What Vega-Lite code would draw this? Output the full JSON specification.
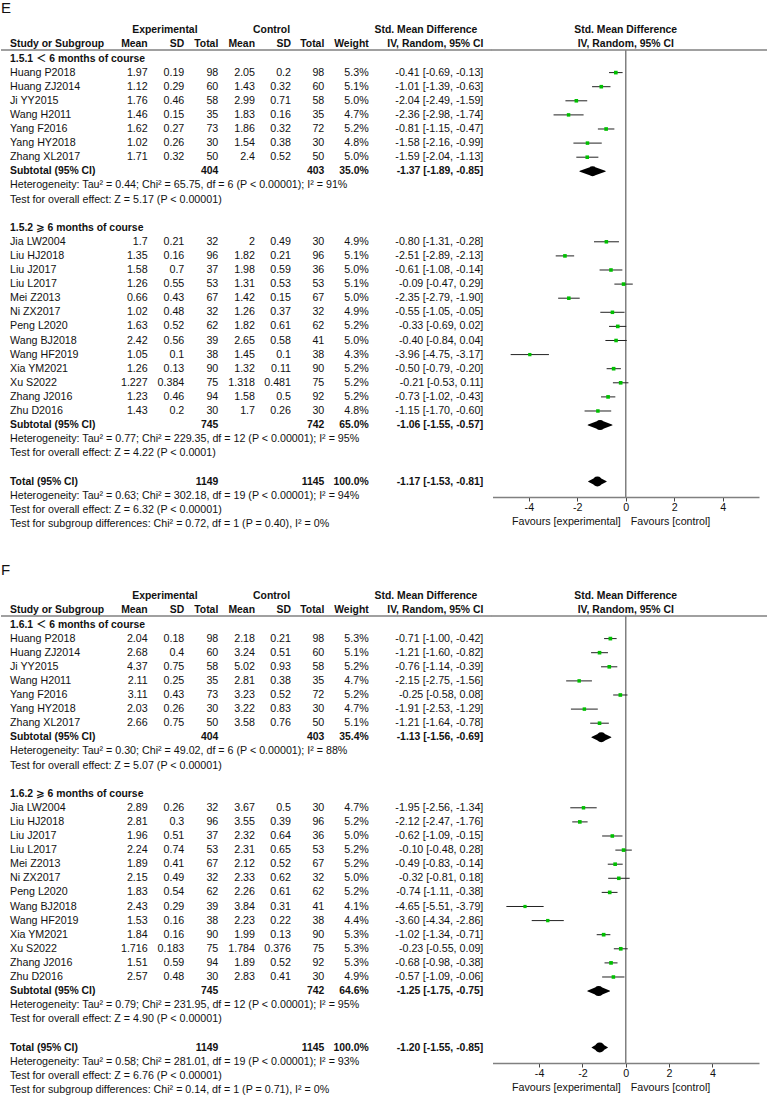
{
"$schema": "https://vega.github.io/schema/vega-lite/v6.json",
"padding": 0,
"background": "white",
"columns": 2,
"spacing": 0,
"bounds": "flush",
"config": {"view": {"stroke": null},
  "text": {"font": "Liberation Sans, Arial, DejaVu Sans, Noto Sans CJK SC", "fontSize": 10.7, "baseline": "middle", "color": "#111"},
  "axisX": {"grid": false, "domainColor": "#808080", "domainWidth": 1.5, "tickColor": "#444", "tickSize": 4, "tickWidth": 1, "labelFont": "Liberation Sans", "labelFontSize": 10.7, "labelColor": "#111", "labelPadding": 1, "labelFlush": false, "labelOverlap": false}},
"datasets": {
"cols": [{"key":"em","c":2},{"key":"esd","c":3},{"key":"et","c":4},{"key":"cm","c":5},{"key":"csd","c":6},{"key":"ct","c":7},{"key":"w","c":8},{"key":"ci","c":9}],
"E": [
{"r":-1,"t":"h","n":"Study or Subgroup","em":"Mean","esd":"SD","et":"Total","cm":"Mean","csd":"SD","ct":"Total","w":"Weight","ci":"IV, Random, 95% CI"},
{"r":0,"t":"g","n":"1.5.1 ＜ 6 months of course"},
{"r":1,"t":"s","n":"Huang P2018","em":1.97,"esd":0.19,"et":98,"cm":2.05,"csd":0.2,"ct":98,"w":"5.3%","wt":5.3,"ci":"-0.41 [-0.69, -0.13]","est":-0.41,"lo":-0.69,"hi":-0.13},
{"r":2,"t":"s","n":"Huang ZJ2014","em":1.12,"esd":0.29,"et":60,"cm":1.43,"csd":0.32,"ct":60,"w":"5.1%","wt":5.1,"ci":"-1.01 [-1.39, -0.63]","est":-1.01,"lo":-1.39,"hi":-0.63},
{"r":3,"t":"s","n":"Ji YY2015","em":1.76,"esd":0.46,"et":58,"cm":2.99,"csd":0.71,"ct":58,"w":"5.0%","wt":5.0,"ci":"-2.04 [-2.49, -1.59]","est":-2.04,"lo":-2.49,"hi":-1.59},
{"r":4,"t":"s","n":"Wang H2011","em":1.46,"esd":0.15,"et":35,"cm":1.83,"csd":0.16,"ct":35,"w":"4.7%","wt":4.7,"ci":"-2.36 [-2.98, -1.74]","est":-2.36,"lo":-2.98,"hi":-1.74},
{"r":5,"t":"s","n":"Yang F2016","em":1.62,"esd":0.27,"et":73,"cm":1.86,"csd":0.32,"ct":72,"w":"5.2%","wt":5.2,"ci":"-0.81 [-1.15, -0.47]","est":-0.81,"lo":-1.15,"hi":-0.47},
{"r":6,"t":"s","n":"Yang HY2018","em":1.02,"esd":0.26,"et":30,"cm":1.54,"csd":0.38,"ct":30,"w":"4.8%","wt":4.8,"ci":"-1.58 [-2.16, -0.99]","est":-1.58,"lo":-2.16,"hi":-0.99},
{"r":7,"t":"s","n":"Zhang XL2017","em":1.71,"esd":0.32,"et":50,"cm":2.4,"csd":0.52,"ct":50,"w":"5.0%","wt":5.0,"ci":"-1.59 [-2.04, -1.13]","est":-1.59,"lo":-2.04,"hi":-1.13},
{"r":8,"t":"sub","n":"Subtotal (95% CI)","et":404,"ct":403,"w":"35.0%","ci":"-1.37 [-1.89, -0.85]","est":-1.37,"lo":-1.89,"hi":-0.85},
{"r":9,"t":"note","n":"Heterogeneity: Tau² = 0.44; Chi² = 65.75, df = 6 (P < 0.00001); I² = 91%"},
{"r":10,"t":"note","n":"Test for overall effect: Z = 5.17 (P < 0.00001)"},
{"r":12,"t":"g","n":"1.5.2 ⩾ 6 months of course"},
{"r":13,"t":"s","n":"Jia LW2004","em":1.7,"esd":0.21,"et":32,"cm":2,"csd":0.49,"ct":30,"w":"4.9%","wt":4.9,"ci":"-0.80 [-1.31, -0.28]","est":-0.80,"lo":-1.31,"hi":-0.28},
{"r":14,"t":"s","n":"Liu HJ2018","em":1.35,"esd":0.16,"et":96,"cm":1.82,"csd":0.21,"ct":96,"w":"5.1%","wt":5.1,"ci":"-2.51 [-2.89, -2.13]","est":-2.51,"lo":-2.89,"hi":-2.13},
{"r":15,"t":"s","n":"Liu J2017","em":1.58,"esd":0.7,"et":37,"cm":1.98,"csd":0.59,"ct":36,"w":"5.0%","wt":5.0,"ci":"-0.61 [-1.08, -0.14]","est":-0.61,"lo":-1.08,"hi":-0.14},
{"r":16,"t":"s","n":"Liu L2017","em":1.26,"esd":0.55,"et":53,"cm":1.31,"csd":0.53,"ct":53,"w":"5.1%","wt":5.1,"ci":"-0.09 [-0.47, 0.29]","est":-0.09,"lo":-0.47,"hi":0.29},
{"r":17,"t":"s","n":"Mei Z2013","em":0.66,"esd":0.43,"et":67,"cm":1.42,"csd":0.15,"ct":67,"w":"5.0%","wt":5.0,"ci":"-2.35 [-2.79, -1.90]","est":-2.35,"lo":-2.79,"hi":-1.90},
{"r":18,"t":"s","n":"Ni ZX2017","em":1.02,"esd":0.48,"et":32,"cm":1.26,"csd":0.37,"ct":32,"w":"4.9%","wt":4.9,"ci":"-0.55 [-1.05, -0.05]","est":-0.55,"lo":-1.05,"hi":-0.05},
{"r":19,"t":"s","n":"Peng L2020","em":1.63,"esd":0.52,"et":62,"cm":1.82,"csd":0.61,"ct":62,"w":"5.2%","wt":5.2,"ci":"-0.33 [-0.69, 0.02]","est":-0.33,"lo":-0.69,"hi":0.02},
{"r":20,"t":"s","n":"Wang BJ2018","em":2.42,"esd":0.56,"et":39,"cm":2.65,"csd":0.58,"ct":41,"w":"5.0%","wt":5.0,"ci":"-0.40 [-0.84, 0.04]","est":-0.40,"lo":-0.84,"hi":0.04},
{"r":21,"t":"s","n":"Wang HF2019","em":1.05,"esd":0.1,"et":38,"cm":1.45,"csd":0.1,"ct":38,"w":"4.3%","wt":4.3,"ci":"-3.96 [-4.75, -3.17]","est":-3.96,"lo":-4.75,"hi":-3.17},
{"r":22,"t":"s","n":"Xia YM2021","em":1.26,"esd":0.13,"et":90,"cm":1.32,"csd":0.11,"ct":90,"w":"5.2%","wt":5.2,"ci":"-0.50 [-0.79, -0.20]","est":-0.50,"lo":-0.79,"hi":-0.20},
{"r":23,"t":"s","n":"Xu S2022","em":1.227,"esd":0.384,"et":75,"cm":1.318,"csd":0.481,"ct":75,"w":"5.2%","wt":5.2,"ci":"-0.21 [-0.53, 0.11]","est":-0.21,"lo":-0.53,"hi":0.11},
{"r":24,"t":"s","n":"Zhang J2016","em":1.23,"esd":0.46,"et":94,"cm":1.58,"csd":0.5,"ct":92,"w":"5.2%","wt":5.2,"ci":"-0.73 [-1.02, -0.43]","est":-0.73,"lo":-1.02,"hi":-0.43},
{"r":25,"t":"s","n":"Zhu D2016","em":1.43,"esd":0.2,"et":30,"cm":1.7,"csd":0.26,"ct":30,"w":"4.8%","wt":4.8,"ci":"-1.15 [-1.70, -0.60]","est":-1.15,"lo":-1.70,"hi":-0.60},
{"r":26,"t":"sub","n":"Subtotal (95% CI)","et":745,"ct":742,"w":"65.0%","ci":"-1.06 [-1.55, -0.57]","est":-1.06,"lo":-1.55,"hi":-0.57},
{"r":27,"t":"note","n":"Heterogeneity: Tau² = 0.77; Chi² = 229.35, df = 12 (P < 0.00001); I² = 95%"},
{"r":28,"t":"note","n":"Test for overall effect: Z = 4.22 (P < 0.0001)"},
{"r":30,"t":"tot","n":"Total (95% CI)","et":1149,"ct":1145,"w":"100.0%","ci":"-1.17 [-1.53, -0.81]","est":-1.17,"lo":-1.53,"hi":-0.81},
{"r":31,"t":"note","n":"Heterogeneity: Tau² = 0.63; Chi² = 302.18, df = 19 (P < 0.00001); I² = 94%"},
{"r":32,"t":"note","n":"Test for overall effect: Z = 6.32 (P < 0.00001)"},
{"r":33,"t":"note","n":"Test for subgroup differences: Chi² = 0.72, df = 1 (P = 0.40), I² = 0%"}
],
"F": [
{"r":-1,"t":"h","n":"Study or Subgroup","em":"Mean","esd":"SD","et":"Total","cm":"Mean","csd":"SD","ct":"Total","w":"Weight","ci":"IV, Random, 95% CI"},
{"r":0,"t":"g","n":"1.6.1 ＜ 6 months of course"},
{"r":1,"t":"s","n":"Huang P2018","em":2.04,"esd":0.18,"et":98,"cm":2.18,"csd":0.21,"ct":98,"w":"5.3%","wt":5.3,"ci":"-0.71 [-1.00, -0.42]","est":-0.71,"lo":-1.00,"hi":-0.42},
{"r":2,"t":"s","n":"Huang ZJ2014","em":2.68,"esd":0.4,"et":60,"cm":3.24,"csd":0.51,"ct":60,"w":"5.1%","wt":5.1,"ci":"-1.21 [-1.60, -0.82]","est":-1.21,"lo":-1.60,"hi":-0.82},
{"r":3,"t":"s","n":"Ji YY2015","em":4.37,"esd":0.75,"et":58,"cm":5.02,"csd":0.93,"ct":58,"w":"5.2%","wt":5.2,"ci":"-0.76 [-1.14, -0.39]","est":-0.76,"lo":-1.14,"hi":-0.39},
{"r":4,"t":"s","n":"Wang H2011","em":2.11,"esd":0.25,"et":35,"cm":2.81,"csd":0.38,"ct":35,"w":"4.7%","wt":4.7,"ci":"-2.15 [-2.75, -1.56]","est":-2.15,"lo":-2.75,"hi":-1.56},
{"r":5,"t":"s","n":"Yang F2016","em":3.11,"esd":0.43,"et":73,"cm":3.23,"csd":0.52,"ct":72,"w":"5.2%","wt":5.2,"ci":"-0.25 [-0.58, 0.08]","est":-0.25,"lo":-0.58,"hi":0.08},
{"r":6,"t":"s","n":"Yang HY2018","em":2.03,"esd":0.26,"et":30,"cm":3.22,"csd":0.83,"ct":30,"w":"4.7%","wt":4.7,"ci":"-1.91 [-2.53, -1.29]","est":-1.91,"lo":-2.53,"hi":-1.29},
{"r":7,"t":"s","n":"Zhang XL2017","em":2.66,"esd":0.75,"et":50,"cm":3.58,"csd":0.76,"ct":50,"w":"5.1%","wt":5.1,"ci":"-1.21 [-1.64, -0.78]","est":-1.21,"lo":-1.64,"hi":-0.78},
{"r":8,"t":"sub","n":"Subtotal (95% CI)","et":404,"ct":403,"w":"35.4%","ci":"-1.13 [-1.56, -0.69]","est":-1.13,"lo":-1.56,"hi":-0.69},
{"r":9,"t":"note","n":"Heterogeneity: Tau² = 0.30; Chi² = 49.02, df = 6 (P < 0.00001); I² = 88%"},
{"r":10,"t":"note","n":"Test for overall effect: Z = 5.07 (P < 0.00001)"},
{"r":12,"t":"g","n":"1.6.2 ⩾ 6 months of course"},
{"r":13,"t":"s","n":"Jia LW2004","em":2.89,"esd":0.26,"et":32,"cm":3.67,"csd":0.5,"ct":30,"w":"4.7%","wt":4.7,"ci":"-1.95 [-2.56, -1.34]","est":-1.95,"lo":-2.56,"hi":-1.34},
{"r":14,"t":"s","n":"Liu HJ2018","em":2.81,"esd":0.3,"et":96,"cm":3.55,"csd":0.39,"ct":96,"w":"5.2%","wt":5.2,"ci":"-2.12 [-2.47, -1.76]","est":-2.12,"lo":-2.47,"hi":-1.76},
{"r":15,"t":"s","n":"Liu J2017","em":1.96,"esd":0.51,"et":37,"cm":2.32,"csd":0.64,"ct":36,"w":"5.0%","wt":5.0,"ci":"-0.62 [-1.09, -0.15]","est":-0.62,"lo":-1.09,"hi":-0.15},
{"r":16,"t":"s","n":"Liu L2017","em":2.24,"esd":0.74,"et":53,"cm":2.31,"csd":0.65,"ct":53,"w":"5.2%","wt":5.2,"ci":"-0.10 [-0.48, 0.28]","est":-0.10,"lo":-0.48,"hi":0.28},
{"r":17,"t":"s","n":"Mei Z2013","em":1.89,"esd":0.41,"et":67,"cm":2.12,"csd":0.52,"ct":67,"w":"5.2%","wt":5.2,"ci":"-0.49 [-0.83, -0.14]","est":-0.49,"lo":-0.83,"hi":-0.14},
{"r":18,"t":"s","n":"Ni ZX2017","em":2.15,"esd":0.49,"et":32,"cm":2.33,"csd":0.62,"ct":32,"w":"5.0%","wt":5.0,"ci":"-0.32 [-0.81, 0.18]","est":-0.32,"lo":-0.81,"hi":0.18},
{"r":19,"t":"s","n":"Peng L2020","em":1.83,"esd":0.54,"et":62,"cm":2.26,"csd":0.61,"ct":62,"w":"5.2%","wt":5.2,"ci":"-0.74 [-1.11, -0.38]","est":-0.74,"lo":-1.11,"hi":-0.38},
{"r":20,"t":"s","n":"Wang BJ2018","em":2.43,"esd":0.29,"et":39,"cm":3.84,"csd":0.31,"ct":41,"w":"4.1%","wt":4.1,"ci":"-4.65 [-5.51, -3.79]","est":-4.65,"lo":-5.51,"hi":-3.79},
{"r":21,"t":"s","n":"Wang HF2019","em":1.53,"esd":0.16,"et":38,"cm":2.23,"csd":0.22,"ct":38,"w":"4.4%","wt":4.4,"ci":"-3.60 [-4.34, -2.86]","est":-3.60,"lo":-4.34,"hi":-2.86},
{"r":22,"t":"s","n":"Xia YM2021","em":1.84,"esd":0.16,"et":90,"cm":1.99,"csd":0.13,"ct":90,"w":"5.3%","wt":5.3,"ci":"-1.02 [-1.34, -0.71]","est":-1.02,"lo":-1.34,"hi":-0.71},
{"r":23,"t":"s","n":"Xu S2022","em":1.716,"esd":0.183,"et":75,"cm":1.784,"csd":0.376,"ct":75,"w":"5.3%","wt":5.3,"ci":"-0.23 [-0.55, 0.09]","est":-0.23,"lo":-0.55,"hi":0.09},
{"r":24,"t":"s","n":"Zhang J2016","em":1.51,"esd":0.59,"et":94,"cm":1.89,"csd":0.52,"ct":92,"w":"5.3%","wt":5.3,"ci":"-0.68 [-0.98, -0.38]","est":-0.68,"lo":-0.98,"hi":-0.38},
{"r":25,"t":"s","n":"Zhu D2016","em":2.57,"esd":0.48,"et":30,"cm":2.83,"csd":0.41,"ct":30,"w":"4.9%","wt":4.9,"ci":"-0.57 [-1.09, -0.06]","est":-0.57,"lo":-1.09,"hi":-0.06},
{"r":26,"t":"sub","n":"Subtotal (95% CI)","et":745,"ct":742,"w":"64.6%","ci":"-1.25 [-1.75, -0.75]","est":-1.25,"lo":-1.75,"hi":-0.75},
{"r":27,"t":"note","n":"Heterogeneity: Tau² = 0.79; Chi² = 231.95, df = 12 (P < 0.00001); I² = 95%"},
{"r":28,"t":"note","n":"Test for overall effect: Z = 4.90 (P < 0.00001)"},
{"r":30,"t":"tot","n":"Total (95% CI)","et":1149,"ct":1145,"w":"100.0%","ci":"-1.20 [-1.55, -0.85]","est":-1.20,"lo":-1.55,"hi":-0.85},
{"r":31,"t":"note","n":"Heterogeneity: Tau² = 0.58; Chi² = 281.01, df = 19 (P < 0.00001); I² = 93%"},
{"r":32,"t":"note","n":"Test for overall effect: Z = 6.76 (P < 0.00001)"},
{"r":33,"t":"note","n":"Test for subgroup differences: Chi² = 0.14, df = 1 (P = 0.71), I² = 0%"}
]
},
"concat": [
{"width": 491, "height": 566, "data": {"name": "E"},
 "layer": [
  {"transform": [{"filter": {"field": "t", "oneOf": ["s","note"]}}], "mark": {"type": "text", "align": "left"},
   "encoding": {"x": {"datum": 1, "type": "quantitative", "scale": {"domain": [0,1,2,3,4,5,6,7,8,9,10], "range": [0,9,146.7,183.3,217.3,254,290,323.3,367.7,482.3,491], "nice": false, "zero": false}, "axis": null},
                "y": {"field": "r", "type": "quantitative", "scale": {"domain": [-4.078, 36.06], "reverse": true, "nice": false, "zero": false}, "axis": null},
                "text": {"field": "n", "type": "nominal"}}},
  {"transform": [{"filter": {"field": "t", "oneOf": ["h","g","sub","tot"]}}], "mark": {"type": "text", "align": "left", "fontWeight": "bold", "fontSize": 10.4},
   "encoding": {"x": {"datum": 1, "type": "quantitative", "axis": null},
                "y": {"field": "r", "type": "quantitative", "axis": null},
                "text": {"field": "n", "type": "nominal"}}},
  {"transform": [{"filter": {"field": "t", "equal": "s"}}, {"fold": ["em","esd","et","cm","csd","ct","w","ci"], "as": ["key","value"]}, {"filter": "isValid(datum.value)"}, {"lookup": "key", "from": {"data": {"name": "cols"}, "key": "key", "fields": ["c"]}}],
   "mark": {"type": "text", "align": "right"},
   "encoding": {"x": {"field": "c", "type": "quantitative", "axis": null}, "y": {"field": "r", "type": "quantitative", "axis": null}, "text": {"field": "value", "type": "nominal"}}},
  {"transform": [{"filter": {"field": "t", "oneOf": ["h","sub","tot"]}}, {"fold": ["em","esd","et","cm","csd","ct","w","ci"], "as": ["key","value"]}, {"filter": "isValid(datum.value)"}, {"lookup": "key", "from": {"data": {"name": "cols"}, "key": "key", "fields": ["c"]}}],
   "mark": {"type": "text", "align": "right", "fontWeight": "bold", "fontSize": 10.4},
   "encoding": {"x": {"field": "c", "type": "quantitative", "axis": null}, "y": {"field": "r", "type": "quantitative", "axis": null}, "text": {"field": "value", "type": "nominal"}}},
  {"data": {"values": [{}]}, "mark": {"type": "text", "align": "center", "fontWeight": "bold", "fontSize": 10.4, "text": "Experimental"}, "encoding": {"x": {"datum": 2.47, "type": "quantitative", "axis": null}, "y": {"datum": -2, "type": "quantitative", "axis": null}}},
  {"data": {"values": [{}]}, "mark": {"type": "text", "align": "center", "fontWeight": "bold", "fontSize": 10.4, "text": "Control"}, "encoding": {"x": {"datum": 5.46, "type": "quantitative", "axis": null}, "y": {"datum": -2, "type": "quantitative", "axis": null}}},
  {"data": {"values": [{}]}, "mark": {"type": "text", "align": "center", "fontWeight": "bold", "fontSize": 10.4, "text": "Std. Mean Difference"}, "encoding": {"x": {"datum": 8.5, "type": "quantitative", "axis": null}, "y": {"datum": -2, "type": "quantitative", "axis": null}}},
  {"data": {"values": [{}]}, "mark": {"type": "text", "align": "left", "fontSize": 15, "text": "E"}, "encoding": {"x": {"datum": 0, "type": "quantitative", "axis": null}, "y": {"datum": -3.6, "type": "quantitative", "axis": null}}},
  {"data": {"values": [{}]}, "mark": {"type": "rule", "color": "#808080", "strokeWidth": 1.5}, "encoding": {"x": {"datum": 0, "type": "quantitative", "axis": null}, "x2": {"datum": 10}, "y": {"datum": -0.6, "type": "quantitative", "axis": null}}}
 ]},
{"width": 276, "height": 496, "data": {"name": "E"},
 "layer": [
  {"data": {"values": [{}]}, "mark": {"type": "rule", "color": "#808080", "strokeWidth": 1.5},
   "encoding": {"x": {"datum": -5.53, "type": "quantitative", "scale": {"domain": [-5.5, 5.5], "range": [0.5, 267], "nice": false, "zero": false}, "axis": {"values": [-4,-2,0,2,4], "title": null, "labelExpr": "'' + datum.value"}}, "x2": {"datum": 5.88},
                "y": {"datum": -0.6, "type": "quantitative", "scale": {"domain": [-4.078, 31.1], "reverse": true, "nice": false, "zero": false}, "axis": null}}},
  {"data": {"values": [{}]}, "mark": {"type": "rule", "color": "#808080", "strokeWidth": 1.5},
   "encoding": {"x": {"datum": 0, "type": "quantitative", "axis": {"values": [-4,-2,0,2,4], "title": null, "labelExpr": "'' + datum.value"}}, "y": {"datum": -0.6, "type": "quantitative", "axis": null}, "y2": {"datum": 31.1}}},
  {"transform": [{"filter": {"field": "t", "equal": "s"}}], "mark": {"type": "rule", "color": "#222", "strokeWidth": 1},
   "encoding": {"x": {"field": "lo", "type": "quantitative", "axis": {"values": [-4,-2,0,2,4], "title": null, "labelExpr": "'' + datum.value"}}, "x2": {"field": "hi"}, "y": {"field": "r", "type": "quantitative", "axis": null}}},
  {"transform": [{"filter": {"field": "t", "equal": "s"}}], "mark": {"type": "point", "shape": "square", "filled": true, "color": "#00c000", "opacity": 1, "strokeWidth": 0},
   "encoding": {"x": {"field": "est", "type": "quantitative", "axis": {"values": [-4,-2,0,2,4], "title": null, "labelExpr": "'' + datum.value"}},
                "y": {"field": "r", "type": "quantitative", "axis": null},
                "size": {"field": "wt", "type": "quantitative", "scale": {"domain": [0, 5.5], "range": [0, 14]}, "legend": null}}},
  {"transform": [{"filter": {"field": "t", "oneOf": ["sub","tot"]}}, {"fold": ["lo","est","hi"], "as": ["key","value"]}], "mark": {"type": "trail", "color": "#000"},
   "encoding": {"x": {"field": "value", "type": "quantitative", "axis": {"values": [-4,-2,0,2,4], "title": null, "labelExpr": "'' + datum.value"}}, "y": {"field": "r", "type": "quantitative", "axis": null}, "detail": {"field": "r", "type": "nominal"},
                "size": {"condition": {"test": "datum.key === 'est'", "value": 10}, "value": 0}}},
  {"data": {"values": [{"h": "Std. Mean Difference", "r": -2}, {"h": "IV, Random, 95% CI", "r": -1}]}, "mark": {"type": "text", "align": "center", "fontWeight": "bold", "fontSize": 10.4},
   "encoding": {"x": {"datum": 0, "type": "quantitative", "axis": {"values": [-4,-2,0,2,4], "title": null, "labelExpr": "'' + datum.value"}}, "y": {"field": "r", "type": "quantitative", "axis": null}, "text": {"field": "h", "type": "nominal"}}},
  {"data": {"values": [{}]}, "mark": {"type": "text", "align": "right", "dx": -5, "text": "Favours [experimental]"}, "encoding": {"x": {"datum": 0, "type": "quantitative", "axis": {"values": [-4,-2,0,2,4], "title": null, "labelExpr": "'' + datum.value"}}, "y": {"datum": 32.85, "type": "quantitative", "axis": null}}},
  {"data": {"values": [{}]}, "mark": {"type": "text", "align": "left", "dx": 5, "text": "Favours [control]"}, "encoding": {"x": {"datum": 0, "type": "quantitative", "axis": {"values": [-4,-2,0,2,4], "title": null, "labelExpr": "'' + datum.value"}}, "y": {"datum": 32.85, "type": "quantitative", "axis": null}}}
 ]},
{"width": 491, "height": 531, "data": {"name": "F"},
 "layer": [
  {"transform": [{"filter": {"field": "t", "oneOf": ["s","note"]}}], "mark": {"type": "text", "align": "left"},
   "encoding": {"x": {"datum": 1, "type": "quantitative", "scale": {"domain": [0,1,2,3,4,5,6,7,8,9,10], "range": [0,9,146.7,183.3,217.3,254,290,323.3,367.7,482.3,491], "nice": false, "zero": false}, "axis": null},
                "y": {"field": "r", "type": "quantitative", "scale": {"domain": [-4.078, 33.58], "reverse": true, "nice": false, "zero": false}, "axis": null},
                "text": {"field": "n", "type": "nominal"}}},
  {"transform": [{"filter": {"field": "t", "oneOf": ["h","g","sub","tot"]}}], "mark": {"type": "text", "align": "left", "fontWeight": "bold", "fontSize": 10.4},
   "encoding": {"x": {"datum": 1, "type": "quantitative", "axis": null},
                "y": {"field": "r", "type": "quantitative", "axis": null},
                "text": {"field": "n", "type": "nominal"}}},
  {"transform": [{"filter": {"field": "t", "equal": "s"}}, {"fold": ["em","esd","et","cm","csd","ct","w","ci"], "as": ["key","value"]}, {"filter": "isValid(datum.value)"}, {"lookup": "key", "from": {"data": {"name": "cols"}, "key": "key", "fields": ["c"]}}],
   "mark": {"type": "text", "align": "right"},
   "encoding": {"x": {"field": "c", "type": "quantitative", "axis": null}, "y": {"field": "r", "type": "quantitative", "axis": null}, "text": {"field": "value", "type": "nominal"}}},
  {"transform": [{"filter": {"field": "t", "oneOf": ["h","sub","tot"]}}, {"fold": ["em","esd","et","cm","csd","ct","w","ci"], "as": ["key","value"]}, {"filter": "isValid(datum.value)"}, {"lookup": "key", "from": {"data": {"name": "cols"}, "key": "key", "fields": ["c"]}}],
   "mark": {"type": "text", "align": "right", "fontWeight": "bold", "fontSize": 10.4},
   "encoding": {"x": {"field": "c", "type": "quantitative", "axis": null}, "y": {"field": "r", "type": "quantitative", "axis": null}, "text": {"field": "value", "type": "nominal"}}},
  {"data": {"values": [{}]}, "mark": {"type": "text", "align": "center", "fontWeight": "bold", "fontSize": 10.4, "text": "Experimental"}, "encoding": {"x": {"datum": 2.47, "type": "quantitative", "axis": null}, "y": {"datum": -2, "type": "quantitative", "axis": null}}},
  {"data": {"values": [{}]}, "mark": {"type": "text", "align": "center", "fontWeight": "bold", "fontSize": 10.4, "text": "Control"}, "encoding": {"x": {"datum": 5.46, "type": "quantitative", "axis": null}, "y": {"datum": -2, "type": "quantitative", "axis": null}}},
  {"data": {"values": [{}]}, "mark": {"type": "text", "align": "center", "fontWeight": "bold", "fontSize": 10.4, "text": "Std. Mean Difference"}, "encoding": {"x": {"datum": 8.5, "type": "quantitative", "axis": null}, "y": {"datum": -2, "type": "quantitative", "axis": null}}},
  {"data": {"values": [{}]}, "mark": {"type": "text", "align": "left", "fontSize": 15, "text": "F"}, "encoding": {"x": {"datum": 0, "type": "quantitative", "axis": null}, "y": {"datum": -3.85, "type": "quantitative", "axis": null}}},
  {"data": {"values": [{}]}, "mark": {"type": "rule", "color": "#808080", "strokeWidth": 1.5}, "encoding": {"x": {"datum": 0, "type": "quantitative", "axis": null}, "x2": {"datum": 10}, "y": {"datum": -0.6, "type": "quantitative", "axis": null}}}
 ]},
{"width": 276, "height": 496, "data": {"name": "F"},
 "layer": [
  {"data": {"values": [{}]}, "mark": {"type": "rule", "color": "#808080", "strokeWidth": 1.5},
   "encoding": {"x": {"datum": -6.18, "type": "quantitative", "scale": {"domain": [-6.15, 6.15], "range": [0.5, 267], "nice": false, "zero": false}, "axis": {"values": [-4,-2,0,2,4], "title": null, "labelExpr": "'' + datum.value"}}, "x2": {"datum": 6.57},
                "y": {"datum": -0.6, "type": "quantitative", "scale": {"domain": [-4.078, 31.1], "reverse": true, "nice": false, "zero": false}, "axis": null}}},
  {"data": {"values": [{}]}, "mark": {"type": "rule", "color": "#808080", "strokeWidth": 1.5},
   "encoding": {"x": {"datum": 0, "type": "quantitative", "axis": {"values": [-4,-2,0,2,4], "title": null, "labelExpr": "'' + datum.value"}}, "y": {"datum": -0.6, "type": "quantitative", "axis": null}, "y2": {"datum": 31.1}}},
  {"transform": [{"filter": {"field": "t", "equal": "s"}}], "mark": {"type": "rule", "color": "#222", "strokeWidth": 1},
   "encoding": {"x": {"field": "lo", "type": "quantitative", "axis": {"values": [-4,-2,0,2,4], "title": null, "labelExpr": "'' + datum.value"}}, "x2": {"field": "hi"}, "y": {"field": "r", "type": "quantitative", "axis": null}}},
  {"transform": [{"filter": {"field": "t", "equal": "s"}}], "mark": {"type": "point", "shape": "square", "filled": true, "color": "#00c000", "opacity": 1, "strokeWidth": 0},
   "encoding": {"x": {"field": "est", "type": "quantitative", "axis": {"values": [-4,-2,0,2,4], "title": null, "labelExpr": "'' + datum.value"}},
                "y": {"field": "r", "type": "quantitative", "axis": null},
                "size": {"field": "wt", "type": "quantitative", "scale": {"domain": [0, 5.5], "range": [0, 14]}, "legend": null}}},
  {"transform": [{"filter": {"field": "t", "oneOf": ["sub","tot"]}}, {"fold": ["lo","est","hi"], "as": ["key","value"]}], "mark": {"type": "trail", "color": "#000"},
   "encoding": {"x": {"field": "value", "type": "quantitative", "axis": {"values": [-4,-2,0,2,4], "title": null, "labelExpr": "'' + datum.value"}}, "y": {"field": "r", "type": "quantitative", "axis": null}, "detail": {"field": "r", "type": "nominal"},
                "size": {"condition": {"test": "datum.key === 'est'", "value": 10}, "value": 0}}},
  {"data": {"values": [{"h": "Std. Mean Difference", "r": -2}, {"h": "IV, Random, 95% CI", "r": -1}]}, "mark": {"type": "text", "align": "center", "fontWeight": "bold", "fontSize": 10.4},
   "encoding": {"x": {"datum": 0, "type": "quantitative", "axis": {"values": [-4,-2,0,2,4], "title": null, "labelExpr": "'' + datum.value"}}, "y": {"field": "r", "type": "quantitative", "axis": null}, "text": {"field": "h", "type": "nominal"}}},
  {"data": {"values": [{}]}, "mark": {"type": "text", "align": "right", "dx": -5, "text": "Favours [experimental]"}, "encoding": {"x": {"datum": 0, "type": "quantitative", "axis": {"values": [-4,-2,0,2,4], "title": null, "labelExpr": "'' + datum.value"}}, "y": {"datum": 32.85, "type": "quantitative", "axis": null}}},
  {"data": {"values": [{}]}, "mark": {"type": "text", "align": "left", "dx": 5, "text": "Favours [control]"}, "encoding": {"x": {"datum": 0, "type": "quantitative", "axis": {"values": [-4,-2,0,2,4], "title": null, "labelExpr": "'' + datum.value"}}, "y": {"datum": 32.85, "type": "quantitative", "axis": null}}}
 ]}
]
}
